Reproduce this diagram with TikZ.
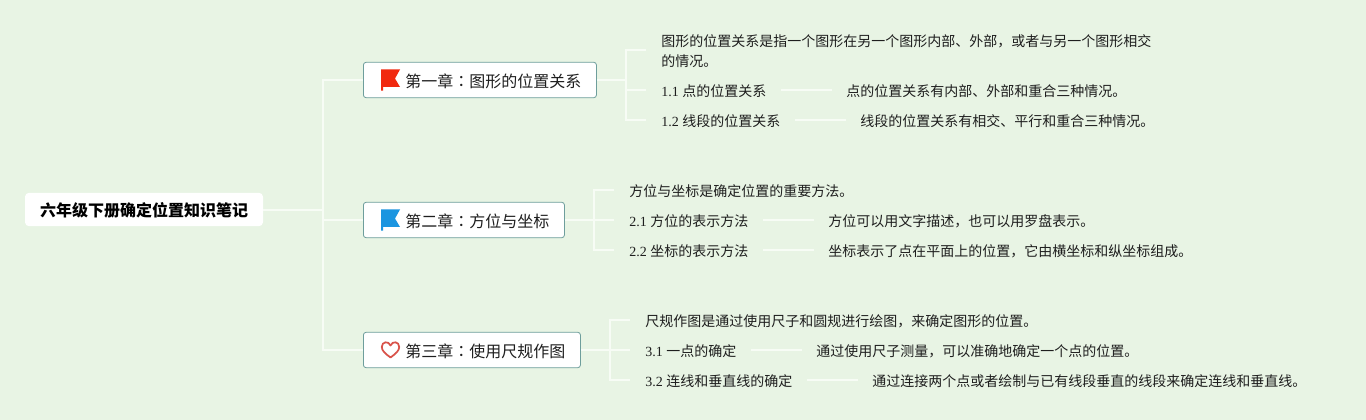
\documentclass[tikz,border=0pt]{standalone}
\usepackage{fontspec}
\setmainfont{Liberation Serif}
\newfontfamily\cjk{Noto Sans CJK SC}
\newfontfamily\cjktc{Noto Sans CJK TC}
\definecolor{bgc}{HTML}{E8F4E4}
\definecolor{linec}{HTML}{F7FCF5}
\definecolor{edgec}{HTML}{6E9E9C}
\definecolor{inkc}{HTML}{1E1E1E}
\definecolor{flagr}{HTML}{F1290F}
\definecolor{flagb}{HTML}{1B95E0}
\definecolor{heartc}{HTML}{D9534A}
\newcommand{\C}[1]{{\cjk #1}}
\newcommand{\CC}{{\cjktc ：}}
\tikzset{
  x=0.75pt,y=-0.75pt,
  link/.style={draw=linec,line width=1pt},
  leaflink/.style={link,shorten <=10.5pt,shorten >=10.5pt},
  rootbox/.style={fill=white,rounded corners=3pt,inner sep=0pt,minimum width=178.5pt,minimum height=25pt,text height=12.5pt,text depth=1.3pt,font=\fontsize{12pt}{14pt}\cjk\bfseries,text=black},
  chap/.style={draw=edgec,fill=white,line width=0.6pt,rounded corners=2pt,inner sep=0pt,minimum height=26.5pt,anchor=west},
  chaptext/.style={inner sep=0pt,anchor=west,font=\fontsize{12pt}{14pt}\cjk,text=inkc},
  leaf/.style={inner sep=0pt,anchor=west,font=\fontsize{10.5pt}{15pt}\selectfont,text=inkc,align=left},
}
\begin{document}
\begin{tikzpicture}
\useasboundingbox[fill=bgc] (0,0) rectangle (1366,420);

% trunk
\node[rootbox] (root) at (144,209.5) {六年级下册确定位置知识笔记};
\node[chap,minimum width=174.8pt] (c1) at (363,80) {};
\node[chap,minimum width=150.8pt] (c2) at (363,220) {};
\node[chap,minimum width=162.8pt] (c3) at (363,350) {};

\coordinate (tk) at (323,210);
\draw[link] (root.east |- tk) -- (tk);
\draw[link] (c1.west) -| (tk);
\draw[link] (c2.west) -- (c2.west -| tk);
\draw[link] (c3.west) -| (tk);

% chapter labels and icons
\node[chaptext] (t1) at (405,81) {第一章\CC 图形的位置关系};
\node[chaptext] (t2) at (405,221) {第二章\CC 方位与坐标};
\node[chaptext] (t3) at (405,351) {第三章\CC 使用尺规作图};
\fill[flagr] (381,69.5) -- (400,69.5) -- (395,78.5) -- (400,87) -- (383,87) -- (383,90.7) -- (381,90.7) -- cycle;
\fill[flagb] (381,209.5) -- (400,209.5) -- (395,218.5) -- (400,227) -- (383,227) -- (383,230.7) -- (381,230.7) -- cycle;
\draw[heartc,line width=1.3pt,line join=round]
  (390.5,357.5) .. controls (385,353.5) and (381.8,350.5) .. (381.8,347)
  .. controls (381.8,341.5) and (388.5,340.5) .. (390.5,345.5)
  .. controls (392.5,340.5) and (399.2,341.5) .. (399.2,347)
  .. controls (399.2,350.5) and (396,353.5) .. (390.5,357.5) -- cycle;

% chapter 1
\node[leaf] (a0) at (661,51.5) {\C{图形的位置关系是指一个图形在另一个图形内部、外部，或者与另一个图形相交}\\\C{的情况。}};
\node[leaf] (a1) at (661,91) {1.1 \C{点的位置关系}};
\node[leaf] (a1b) at (846,91) {\C{点的位置关系有内部、外部和重合三种情况。}};
\node[leaf] (a2) at (661,121) {1.2 \C{线段的位置关系}};
\node[leaf] (a2b) at (860,121) {\C{线段的位置关系有相交、平行和重合三种情况。}};
\coordinate (j1) at (626,80);
\coordinate (e10) at (646,50);
\coordinate (e11) at (646,90);
\coordinate (e12) at (646,120);
\draw[link] (c1.east) -- (j1);
\draw[link] (e10) -| (j1) |- (e12);
\draw[link] (j1 |- e11) -- (e11);
\draw[leaflink] (a1.east |- e11) -- (a1b.west |- e11);
\draw[leaflink] (a2.east |- e12) -- (a2b.west |- e12);

% chapter 2
\node[leaf] (b0) at (629,191) {\C{方位与坐标是确定位置的重要方法。}};
\node[leaf] (b1) at (629,221) {2.1 \C{方位的表示方法}};
\node[leaf] (b1b) at (828,221) {\C{方位可以用文字描述，也可以用罗盘表示。}};
\node[leaf] (b2) at (629,251) {2.2 \C{坐标的表示方法}};
\node[leaf] (b2b) at (828,251) {\C{坐标表示了点在平面上的位置，它由横坐标和纵坐标组成。}};
\coordinate (j2) at (594,220);
\coordinate (e20) at (614,190);
\coordinate (e21) at (614,220);
\coordinate (e22) at (614,250);
\draw[link] (c2.east) -- (e21);
\draw[link] (e20) -| (j2) |- (e22);
\draw[leaflink] (b1.east |- e21) -- (b1b.west |- e21);
\draw[leaflink] (b2.east |- e22) -- (b2b.west |- e22);

% chapter 3
\node[leaf] (d0) at (645,321) {\C{尺规作图是通过使用尺子和圆规进行绘图，来确定图形的位置。}};
\node[leaf] (d1) at (645,351) {3.1 \C{一点的确定}};
\node[leaf] (d1b) at (816,351) {\C{通过使用尺子测量，可以准确地确定一个点的位置。}};
\node[leaf] (d2) at (645,381) {3.2 \C{连线和垂直线的确定}};
\node[leaf] (d2b) at (872,381) {\C{通过连接两个点或者绘制与已有线段垂直的线段来确定连线和垂直线。}};
\coordinate (j3) at (610,350);
\coordinate (e30) at (630,320);
\coordinate (e31) at (630,350);
\coordinate (e32) at (630,380);
\draw[link] (c3.east) -- (e31);
\draw[link] (e30) -| (j3) |- (e32);
\draw[leaflink] (d1.east |- e31) -- (d1b.west |- e31);
\draw[leaflink] (d2.east |- e32) -- (d2b.west |- e32);
\end{tikzpicture}
\end{document}
